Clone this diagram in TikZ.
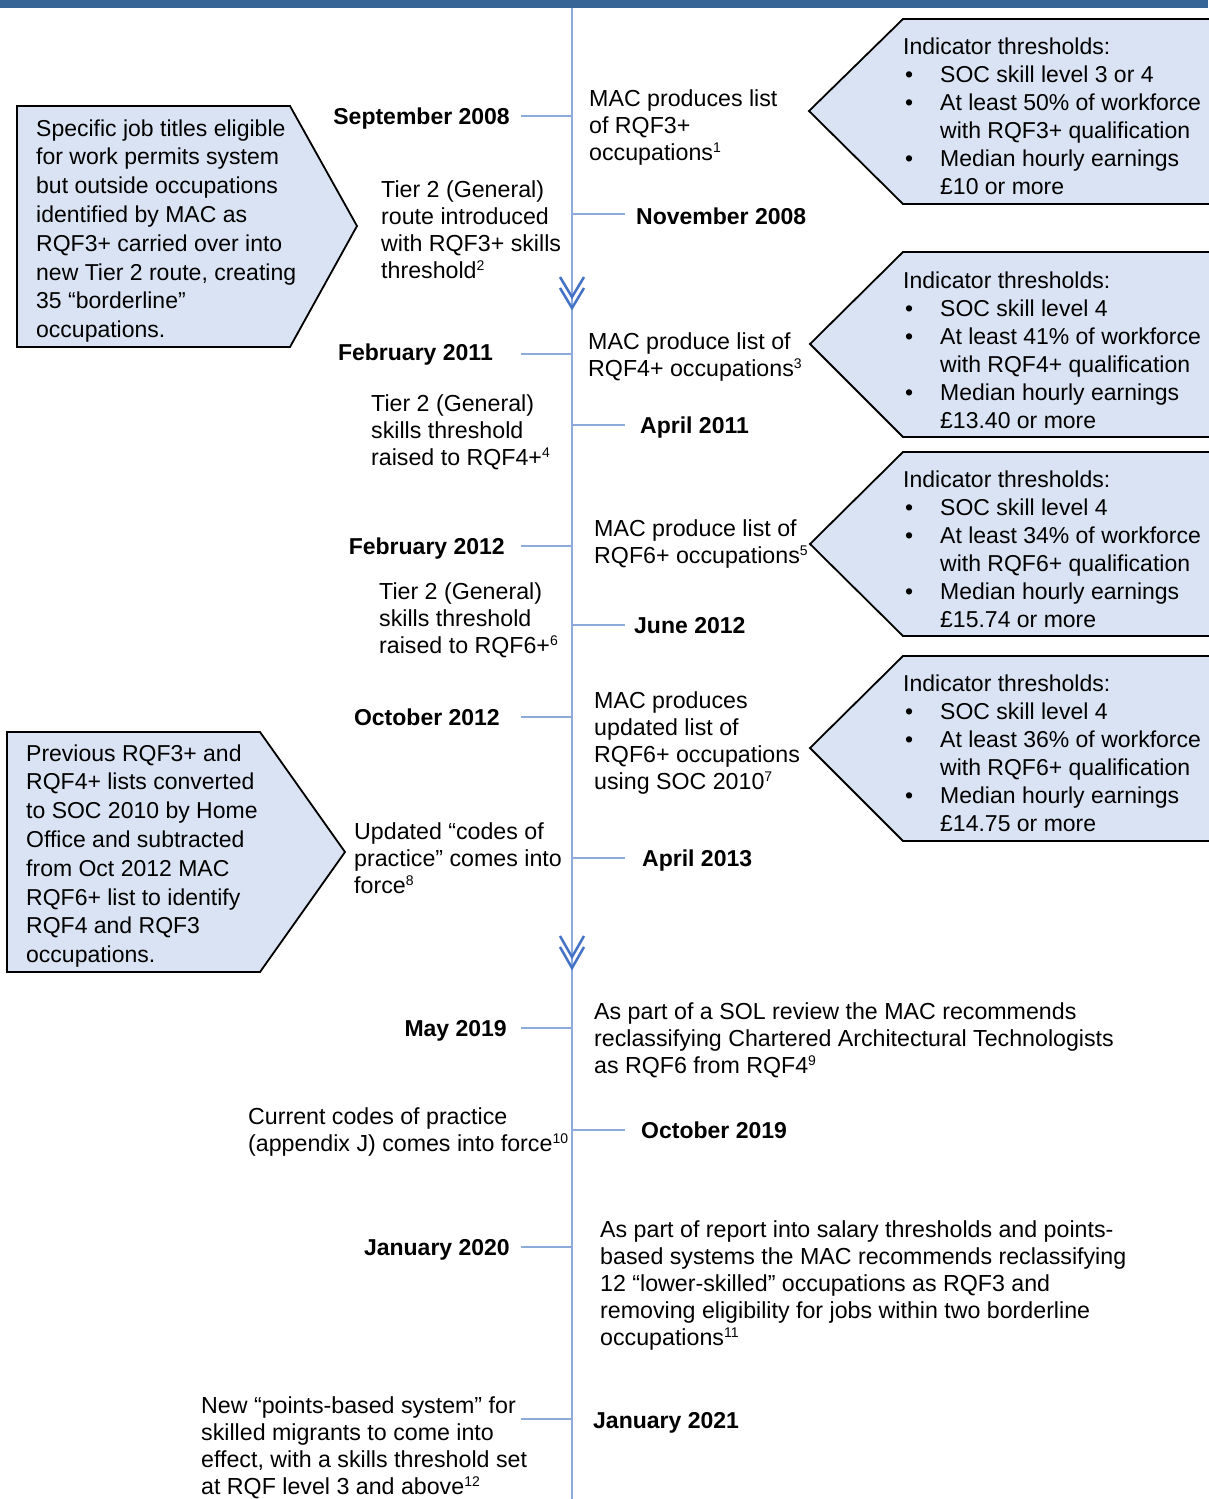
\documentclass[tikz,border=0pt]{standalone}
\usepackage{fontspec}
\setmainfont{Liberation Sans}
\definecolor{topbar}{RGB}{54,101,150}
\definecolor{tline}{RGB}{142,170,219}
\definecolor{chev}{RGB}{68,114,196}
\definecolor{boxfill}{RGB}{218,227,243}
\newcommand{\mylines}[1]{\begin{tabular}[t]{@{}l@{}}#1\end{tabular}}
\newcommand{\bul}{\makebox[37pt][l]{\hspace{2pt}\textbullet}}
\newcommand{\ind}{\hspace*{37pt}}
\newcommand{\fnum}[1]{\raisebox{8pt}{\fontsize{14}{14}\selectfont #1}}
\tikzset{
  desc/.style={font=\fontsize{23.2}{27}\selectfont, inner sep=0pt, anchor=base west},
  datel/.style={font=\fontsize{23}{27}\selectfont\bfseries, inner sep=0pt, anchor=base east},
  dater/.style={font=\fontsize{23}{27}\selectfont\bfseries, inner sep=0pt, anchor=base west},
  indtext/.style={font=\fontsize{23}{28}\selectfont, inner sep=0pt, anchor=base west},
  ltext/.style={font=\fontsize{23}{28.8}\selectfont, inner sep=0pt, anchor=base west},
  shapebox/.style={draw=black, line width=1.8pt, fill=boxfill, line join=miter},
  tick/.style={draw=tline, line width=1.5pt},
  chevron/.style={draw=chev, line width=2.5pt}
}
\begin{document}
\begin{tikzpicture}[x=1pt,y=-1pt]
\useasboundingbox (0,0) rectangle (1208,1499);
% top bar
\fill[topbar] (0,0) rectangle (1208,8);
% timeline
\coordinate (ttop) at (572,8);
\coordinate (tbot) at (572,1499);
\draw[tline, line width=2pt] (ttop) -- (tbot);

% indicator boxes (right)
\draw[shapebox] (1215,19) -- (903,19) -- (809,111) -- (903,204) -- (1215,204);
\draw[shapebox] (1215,252) -- (903,252) -- (810,344) -- (903,437) -- (1215,437);
\draw[shapebox] (1215,452) -- (903,452) -- (810,544) -- (903,636) -- (1215,636);
\draw[shapebox] (1215,656) -- (903,656) -- (810,748) -- (903,841) -- (1215,841);
% left boxes
\draw[shapebox] (17,106) -- (290,106) -- (357,226) -- (290,347) -- (17,347) -- cycle;
\draw[shapebox] (7,732) -- (260,732) -- (345,852) -- (260,972) -- (7,972) -- cycle;

% chevrons
\draw[chevron] (560,277) -- (572,297) -- (584,277);
\draw[chevron] (560,288) -- (572,308) -- (584,288);
\draw[chevron] (560,936) -- (572,957) -- (584,936);
\draw[chevron] (560,947) -- (572,968) -- (584,947);

% tick coordinates on timeline
\foreach \n/\y in {a/116,b/214,c/354,d/425,e/546,f/625,g/717,h/858,i/1028,j/1130,k/1247,l/1419}
  \coordinate (tk\n) at (572,\y);
\draw[tick] (tka) -- ++(-51,0);
\draw[tick] (tkb) -- ++(53,0);
\draw[tick] (tkc) -- ++(-51,0);
\draw[tick] (tkd) -- ++(53,0);
\draw[tick] (tke) -- ++(-51,0);
\draw[tick] (tkf) -- ++(53,0);
\draw[tick] (tkg) -- ++(-51,0);
\draw[tick] (tkh) -- ++(53,0);
\draw[tick] (tki) -- ++(-51,0);
\draw[tick] (tkj) -- ++(53,0);
\draw[tick] (tkk) -- ++(-51,0);
\draw[tick] (tkl) -- ++(-51,0);

% dates
\node[datel] (sep08) at (510,124) {September 2008};
\node[dater] (nov08) at (636,224) {November 2008};
\node[datel] (feb11) at (493,360) {February 2011};
\node[dater] (apr11) at (640,433) {April 2011};
\node[datel] (feb12) at (505,554) {February 2012};
\node[dater] (jun12) at (634,633) {June 2012};
\node[datel] (oct12) at (500,725) {October 2012};
\node[dater] (apr13) at (642,866) {April 2013};
\node[datel] (may19) at (507,1036) {May 2019};
\node[dater] (oct19) at (641,1138) {October 2019};
\node[datel] (jan20) at (510,1255) {January 2020};
\node[dater] (jan21) at (593,1428) {January 2021};

% descriptions
\node[desc] (d1) at (589,106) {\mylines{MAC produces list\\of RQF3+\\occupations\fnum{1}}};
\node[desc] (d2) at (381,197) {\mylines{Tier 2 (General)\\route introduced\\with RQF3+ skills\\threshold\fnum{2}}};
\node[desc] (d3) at (588,349) {\mylines{MAC produce list of\\RQF4+ occupations\fnum{3}}};
\node[desc] (d4) at (371,411) {\mylines{Tier 2 (General)\\skills threshold\\raised to RQF4+\fnum{4}}};
\node[desc] (d5) at (594,536) {\mylines{MAC produce list of\\RQF6+ occupations\fnum{5}}};
\node[desc] (d6) at (379,599) {\mylines{Tier 2 (General)\\skills threshold\\raised to RQF6+\fnum{6}}};
\node[desc] (d7) at (594,708) {\mylines{MAC produces\\updated list of\\RQF6+ occupations\\using SOC 2010\fnum{7}}};
\node[desc] (d8) at (354,839) {\mylines{Updated “codes of\\practice” comes into\\force\fnum{8}}};
\node[desc] (d9) at (594,1019) {\mylines{As part of a SOL review the MAC recommends\\reclassifying Chartered Architectural Technologists\\as RQF6 from RQF4\fnum{9}}};
\node[desc] (d10) at (248,1124) {\mylines{Current codes of practice\\(appendix J) comes into force\fnum{10}}};
\node[desc] (d11) at (600,1237) {\mylines{As part of report into salary thresholds and points-\\based systems the MAC recommends reclassifying\\12 “lower-skilled” occupations as RQF3 and\\removing eligibility for jobs within two borderline\\occupations\fnum{11}}};
\node[desc] (d12) at (201,1413) {\mylines{New “points-based system” for\\skilled migrants to come into\\effect, with a skills threshold set\\at RQF level 3 and above\fnum{12}}};

% indicator texts
\node[indtext] (i1) at (903,54) {\mylines{Indicator thresholds:\\\bul SOC skill level 3 or 4\\\bul At least 50\% of workforce\\\ind with RQF3+ qualification\\\bul Median hourly earnings\\\ind £10 or more}};
\node[indtext] (i2) at (903,288) {\mylines{Indicator thresholds:\\\bul SOC skill level 4\\\bul At least 41\% of workforce\\\ind with RQF4+ qualification\\\bul Median hourly earnings\\\ind £13.40 or more}};
\node[indtext] (i3) at (903,487) {\mylines{Indicator thresholds:\\\bul SOC skill level 4\\\bul At least 34\% of workforce\\\ind with RQF6+ qualification\\\bul Median hourly earnings\\\ind £15.74 or more}};
\node[indtext] (i4) at (903,691) {\mylines{Indicator thresholds:\\\bul SOC skill level 4\\\bul At least 36\% of workforce\\\ind with RQF6+ qualification\\\bul Median hourly earnings\\\ind £14.75 or more}};

% left box texts
\node[ltext] (l1) at (36,136) {\mylines{Specific job titles eligible\\for work permits system\\but outside occupations\\identified by MAC as\\RQF3+ carried over into\\new Tier 2 route, creating\\35 “borderline”\\occupations.}};
\node[ltext] (l2) at (26,761) {\mylines{Previous RQF3+ and\\RQF4+ lists converted\\to SOC 2010 by Home\\Office and subtracted\\from Oct 2012 MAC\\RQF6+ list to identify\\RQF4 and RQF3\\occupations.}};
\end{tikzpicture}
\end{document}
